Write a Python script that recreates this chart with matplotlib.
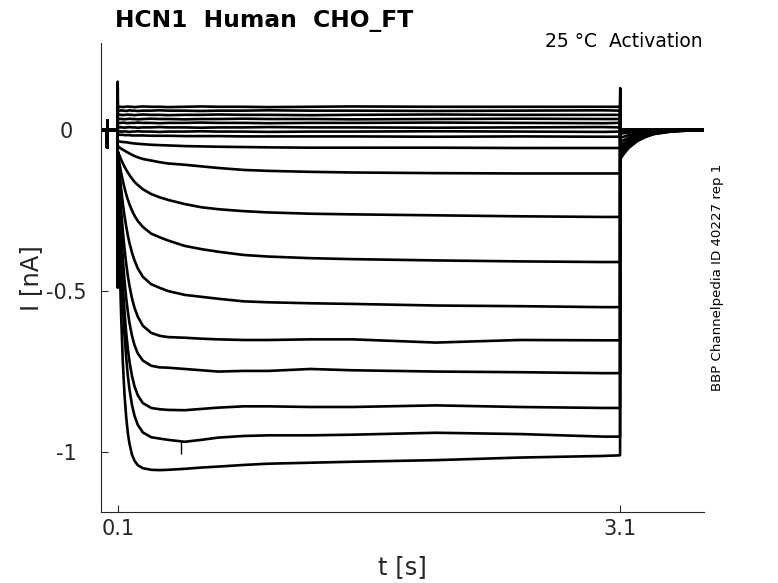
import matplotlib
matplotlib.use('Agg')
import matplotlib.pyplot as plt

plt.rcParams['font.family'] = ['DejaVu Sans']

# ---------------- data ----------------
title = "HCN1  Human  CHO_FT"
condition = "25 °C  Activation"
source = "BBP Channelpedia ID 40227 rep 1"

x_ticks = [0.1, 3.1]
x_tick_labels = ["0.1", "3.1"]
y_ticks = [-1.0, -0.5, 0.0]
y_tick_labels = ["-1", "-0.5", "0"]

# holding period before the step (shared by all sweeps)
pre_t = [0.0, 0.036, 0.037, 0.038, 0.039, 0.0995]
pre_i = [0.0, 0.0, -0.055, 0.03, 0.0, 0.0]

# capacitive transient at step onset / offset for each sweep
on_spike_t = 0.0998
on_spike = [0.15, 0.13, 0.11, 0.09, 0.07, 0.05, 0.03, 0.01, -0.02,
            -0.06, -0.10, -0.15, -0.20, -0.25, -0.30, -0.36, -0.42, -0.49]
off_spike_t = 3.1
off_spike = [-0.03, -0.025, -0.02, -0.015, -0.01, -0.005, 0.0, 0.005, 0.01,
             0.02, 0.03, 0.04, 0.05, 0.06, 0.08, 0.09, 0.11, 0.13]

# current during the test step
step_t = [0.1, 0.105, 0.11, 0.115, 0.12, 0.13, 0.14,
          0.15, 0.16, 0.17, 0.185, 0.2, 0.22, 0.25,
          0.3, 0.35, 0.4, 0.5, 0.6, 0.7, 0.85,
          1.0, 1.25, 1.5, 2.0, 2.5, 3.0, 3.099]
step_i = [
    [0.071, 0.072, 0.071, 0.072, 0.072, 0.071, 0.072,
     0.072, 0.073, 0.072, 0.072, 0.071, 0.072, 0.073,
     0.072, 0.072, 0.071, 0.072, 0.073, 0.072, 0.072,
     0.071, 0.072, 0.073, 0.072, 0.072, 0.072, 0.072],
    [0.060, 0.059, 0.060, 0.060, 0.061, 0.060, 0.060,
     0.059, 0.060, 0.061, 0.060, 0.060, 0.059, 0.060,
     0.060, 0.061, 0.060, 0.060, 0.059, 0.060, 0.060,
     0.061, 0.060, 0.060, 0.059, 0.060, 0.061, 0.060],
    [0.047, 0.047, 0.048, 0.047, 0.047, 0.046, 0.047,
     0.047, 0.048, 0.047, 0.047, 0.046, 0.047, 0.048,
     0.047, 0.047, 0.046, 0.047, 0.047, 0.048, 0.047,
     0.047, 0.046, 0.047, 0.048, 0.047, 0.047, 0.047],
    [0.035, 0.034, 0.034, 0.035, 0.034, 0.034, 0.033,
     0.034, 0.034, 0.035, 0.034, 0.034, 0.033, 0.034,
     0.035, 0.034, 0.034, 0.033, 0.034, 0.034, 0.035,
     0.034, 0.034, 0.033, 0.034, 0.035, 0.034, 0.034],
    [0.022, 0.022, 0.021, 0.022, 0.022, 0.023, 0.022,
     0.022, 0.021, 0.022, 0.022, 0.022, 0.023, 0.022,
     0.022, 0.021, 0.022, 0.022, 0.023, 0.022, 0.022,
     0.021, 0.022, 0.022, 0.023, 0.022, 0.021, 0.022],
    [0.009, 0.008, 0.008, 0.009, 0.008, 0.008, 0.007,
     0.008, 0.008, 0.009, 0.008, 0.008, 0.007, 0.008,
     0.008, 0.009, 0.008, 0.008, 0.007, 0.008, 0.008,
     0.009, 0.008, 0.008, 0.007, 0.008, 0.009, 0.008],
    [-0.004, -0.004, -0.005, -0.004, -0.005, -0.005, -0.004,
     -0.005, -0.005, -0.006, -0.005, -0.005, -0.004, -0.005,
     -0.005, -0.006, -0.005, -0.005, -0.004, -0.005, -0.005,
     -0.006, -0.005, -0.005, -0.004, -0.005, -0.006, -0.005],
    [-0.014, -0.014, -0.015, -0.015, -0.015, -0.015, -0.016,
     -0.016, -0.016, -0.016, -0.017, -0.017, -0.017, -0.017,
     -0.018, -0.018, -0.018, -0.019, -0.019, -0.019, -0.020,
     -0.020, -0.020, -0.020, -0.021, -0.020, -0.021, -0.021],
    [-0.035, -0.035, -0.036, -0.036, -0.037, -0.037, -0.038,
     -0.038, -0.039, -0.040, -0.041, -0.042, -0.043, -0.044,
     -0.046, -0.047, -0.048, -0.050, -0.051, -0.052, -0.053,
     -0.054, -0.055, -0.055, -0.055, -0.056, -0.056, -0.056],
    [-0.050, -0.052, -0.054, -0.056, -0.058, -0.061, -0.064,
     -0.067, -0.070, -0.073, -0.077, -0.081, -0.085, -0.090,
     -0.095, -0.100, -0.104, -0.108, -0.113, -0.118, -0.124,
     -0.127, -0.130, -0.132, -0.134, -0.135, -0.135, -0.135],
    [-0.065, -0.072, -0.079, -0.085, -0.092, -0.103, -0.114,
     -0.123, -0.132, -0.140, -0.151, -0.161, -0.171, -0.184,
     -0.199, -0.209, -0.217, -0.230, -0.240, -0.246, -0.252,
     -0.256, -0.260, -0.262, -0.265, -0.268, -0.270, -0.270],
    [-0.070, -0.087, -0.103, -0.118, -0.132, -0.157, -0.179,
     -0.199, -0.216, -0.231, -0.250, -0.266, -0.283, -0.301,
     -0.322, -0.333, -0.343, -0.360, -0.370, -0.378, -0.388,
     -0.393, -0.398, -0.401, -0.405, -0.408, -0.410, -0.410],
    [-0.070, -0.101, -0.131, -0.157, -0.182, -0.227, -0.266,
     -0.298, -0.327, -0.351, -0.381, -0.405, -0.430, -0.456,
     -0.479, -0.490, -0.500, -0.512, -0.518, -0.524, -0.532,
     -0.535, -0.538, -0.540, -0.545, -0.547, -0.550, -0.550],
    [-0.070, -0.120, -0.165, -0.207, -0.245, -0.312, -0.367,
     -0.413, -0.452, -0.484, -0.523, -0.552, -0.580, -0.608,
     -0.630, -0.639, -0.643, -0.645, -0.648, -0.650, -0.652,
     -0.652, -0.650, -0.650, -0.660, -0.652, -0.653, -0.653],
    [-0.070, -0.140, -0.203, -0.260, -0.311, -0.396, -0.465,
     -0.520, -0.563, -0.599, -0.639, -0.668, -0.694, -0.716,
     -0.732, -0.737, -0.738, -0.742, -0.746, -0.750, -0.748,
     -0.748, -0.742, -0.746, -0.750, -0.752, -0.755, -0.755],
    [-0.070, -0.160, -0.240, -0.310, -0.373, -0.478, -0.561,
     -0.627, -0.678, -0.719, -0.764, -0.796, -0.824, -0.848,
     -0.863, -0.867, -0.869, -0.870, -0.866, -0.862, -0.858,
     -0.858, -0.860, -0.860, -0.855, -0.860, -0.863, -0.863],
    [-0.070, -0.175, -0.267, -0.349, -0.420, -0.540, -0.633,
     -0.704, -0.762, -0.805, -0.854, -0.887, -0.916, -0.939,
     -0.954, -0.958, -0.962, -0.968, -0.962, -0.955, -0.950,
     -0.948, -0.948, -0.946, -0.940, -0.944, -0.952, -0.952],
    [-0.070, -0.232, -0.366, -0.479, -0.572, -0.717, -0.819,
     -0.889, -0.940, -0.974, -1.008, -1.027, -1.041, -1.050,
     -1.055, -1.056, -1.055, -1.052, -1.048, -1.045, -1.040,
     -1.036, -1.033, -1.030, -1.025, -1.017, -1.012, -1.010],
]

# tail currents after returning to holding potential
tail_t = [3.101, 3.12, 3.15, 3.2, 3.25, 3.3, 3.4, 3.5, 3.6]
tail_i = [
    [0.0, 0.0, 0.0, 0.0, 0.0, 0.0, 0.0, 0.0, 0.0],
    [0.0, 0.0, 0.0, 0.0, 0.0, 0.0, 0.0, 0.0, 0.0],
    [0.0, 0.0, 0.0, 0.0, 0.0, 0.0, 0.0, 0.0, 0.0],
    [0.0, 0.0, 0.0, 0.0, 0.0, 0.0, 0.0, 0.0, 0.0],
    [0.0, 0.0, 0.0, 0.0, 0.0, 0.0, 0.0, 0.0, 0.0],
    [0.0, 0.0, 0.0, 0.0, 0.0, 0.0, 0.0, 0.0, 0.0],
    [0.0, 0.0, 0.0, 0.0, 0.0, 0.0, 0.0, 0.0, 0.0],
    [0.0, 0.0, 0.0, 0.0, 0.0, 0.0, 0.0, 0.0, 0.0],
    [-0.004, -0.003, -0.003, -0.002, -0.001, -0.001, 0.0, 0.0, 0.0],
    [-0.012, -0.010, -0.008, -0.005, -0.003, -0.002, -0.001, 0.0, 0.0],
    [-0.025, -0.021, -0.016, -0.010, -0.006, -0.004, -0.001, 0.0, 0.0],
    [-0.038, -0.032, -0.024, -0.015, -0.009, -0.005, -0.002, -0.001, 0.0],
    [-0.050, -0.042, -0.031, -0.019, -0.012, -0.007, -0.003, -0.001, 0.0],
    [-0.060, -0.050, -0.037, -0.023, -0.015, -0.009, -0.003, -0.001, 0.0],
    [-0.070, -0.058, -0.044, -0.027, -0.017, -0.010, -0.004, -0.001, 0.0],
    [-0.078, -0.065, -0.049, -0.030, -0.019, -0.011, -0.004, -0.001, 0.0],
    [-0.085, -0.071, -0.053, -0.033, -0.021, -0.012, -0.005, -0.002, 0.0],
    [-0.090, -0.075, -0.056, -0.035, -0.022, -0.013, -0.005, -0.002, 0.0],
]

# isolated artefact spike on sweep 17
artefact_t = [0.476]
artefact_lo = [-1.005]
artefact_hi = [-0.966]

# ---------------- figure ----------------
fig = plt.figure(figsize=(7.78, 5.83), dpi=100)
ax = fig.add_axes([101 / 778, 1 - 512 / 583, 603 / 778, 469 / 583])

axis_col = '#262626'
for k in range(len(step_i)):
    t = pre_t + [on_spike_t] + step_t + [off_spike_t] + tail_t
    i = pre_i + [on_spike[k]] + step_i[k] + [off_spike[k]] + tail_i[k]
    ax.plot(t, i, color='black', lw=1.9, solid_joinstyle='round')

ax.vlines(artefact_t, artefact_lo, artefact_hi, color='black', lw=1.0)

ax.set_xlim(0, 3.6)
ax.set_ylim(-1.186, 0.27)
ax.set_xticks(x_ticks)
ax.set_xticklabels(x_tick_labels)
ax.set_yticks(y_ticks)
ax.set_yticklabels(y_tick_labels)
ax.spines['top'].set_visible(False)
ax.spines['right'].set_visible(False)
for s in ['left', 'bottom']:
    ax.spines[s].set_color(axis_col)
    ax.spines[s].set_linewidth(0.8)
ax.tick_params(direction='in', length=5, width=0.8, colors=axis_col,
               labelsize=15, labelcolor=axis_col)
ax.tick_params(axis='x', pad=5)
ax.tick_params(axis='y', pad=25)
for lab in ax.get_yticklabels():
    lab.set_horizontalalignment('center')

fig.text(115 / 778, 1 - 27 / 583, title, fontsize=16.8, fontweight='bold',
         ha='left', va='baseline', color='black')
fig.text(703 / 778, 1 - 47 / 583, condition, fontsize=13.5,
         ha='right', va='baseline', color='black')
fig.text(717 / 778, 1 - 277 / 583, source, fontsize=9.6, rotation=90,
         ha='center', va='center', color='black')
fig.text(31 / 778, 1 - 278 / 583, "I [nA]", fontsize=17.5, rotation=90,
         ha='center', va='center', color=axis_col)
fig.text(402 / 778, 1 - 567 / 583, "t [s]", fontsize=17.5,
         ha='center', va='center', color=axis_col)

fig.savefig('out.png', dpi=100)
